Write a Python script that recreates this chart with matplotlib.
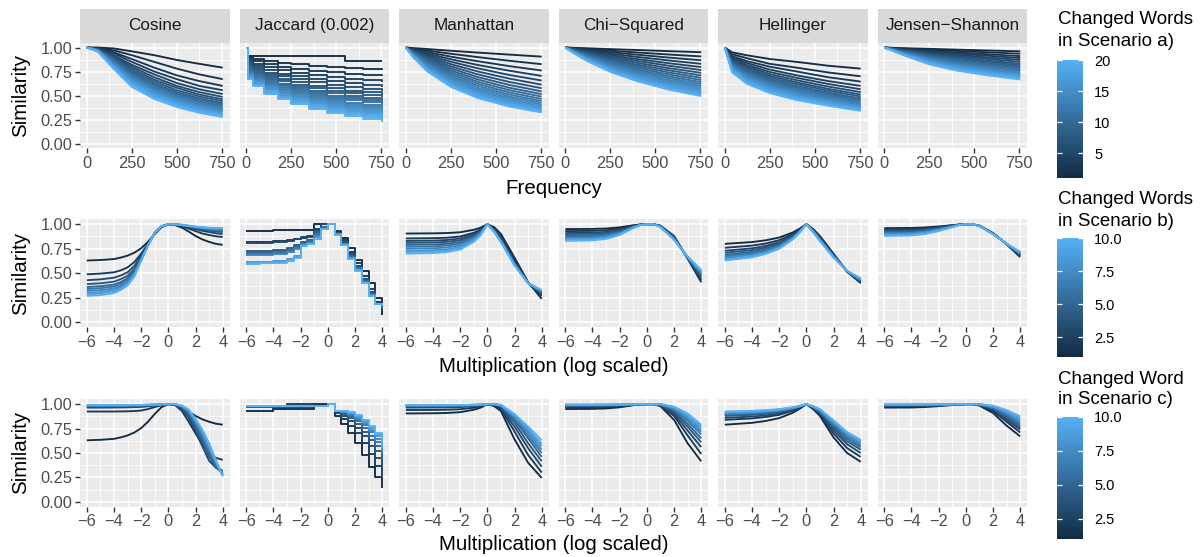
import numpy as np
import matplotlib
matplotlib.use("Agg")
import matplotlib.pyplot as plt
from matplotlib.colors import LinearSegmentedColormap

plt.rcParams['font.family'] = ['Liberation Sans', 'DejaVu Sans']

W, H = 1200, 557

PANELS = ["Cosine", "Jaccard (0.002)", "Manhattan", "Chi\u2212Squared", "Hellinger", "Jensen\u2212Shannon"]

# ---- scenario a): similarity vs frequency, one row per changed-word count (1..20)
FREQ_X = [0, 40, 120, 250, 400, 575, 755]
COS_X = [0, 60, 150, 250, 375, 500, 625, 755]
JAC_X = [0, 10, 40, 100, 175, 250, 350, 450, 550, 650, 755]

A_COSINE = [
    [1, 1.00, 0.99, 0.96, 0.92, 0.87, 0.83, 0.79],
    [1, 0.99, 0.97, 0.92, 0.85, 0.78, 0.72, 0.67],
    [1, 0.99, 0.95, 0.88, 0.79, 0.71, 0.65, 0.60],
    [1, 0.99, 0.94, 0.85, 0.75, 0.67, 0.60, 0.555],
    [1, 0.985, 0.92, 0.82, 0.72, 0.63, 0.565, 0.515],
    [1, 0.985, 0.91, 0.80, 0.69, 0.60, 0.535, 0.485],
    [1, 0.98, 0.90, 0.78, 0.665, 0.58, 0.51, 0.46],
    [1, 0.98, 0.89, 0.76, 0.645, 0.555, 0.49, 0.44],
    [1, 0.98, 0.88, 0.745, 0.625, 0.535, 0.47, 0.42],
    [1, 0.975, 0.87, 0.73, 0.61, 0.52, 0.455, 0.405],
    [1, 0.975, 0.86, 0.715, 0.595, 0.505, 0.44, 0.39],
    [1, 0.975, 0.85, 0.70, 0.58, 0.49, 0.425, 0.375],
    [1, 0.97, 0.84, 0.69, 0.565, 0.475, 0.41, 0.36],
    [1, 0.97, 0.83, 0.675, 0.55, 0.46, 0.40, 0.35],
    [1, 0.97, 0.82, 0.665, 0.54, 0.45, 0.385, 0.335],
    [1, 0.965, 0.81, 0.65, 0.525, 0.435, 0.375, 0.325],
    [1, 0.965, 0.80, 0.635, 0.51, 0.42, 0.36, 0.31],
    [1, 0.965, 0.795, 0.62, 0.495, 0.41, 0.35, 0.30],
    [1, 0.96, 0.785, 0.605, 0.48, 0.395, 0.335, 0.29],
    [1, 0.96, 0.775, 0.59, 0.465, 0.38, 0.32, 0.275],
]

A_JACCARD = [
    [1, .91, .91, .91, .91, .91, .91, .91, .86, .86, .86],
    [1, .90, .88, .86, .84, .825, .81, .80, .79, .78, .77],
    [1, .89, .86, .827, .80, .78, .759, .742, .727, .715, .70],
    [1, .87, .833, .794, .762, .737, .711, .691, .672, .658, .64],
    [1, .85, .808, .764, .728, .699, .671, .647, .626, .611, .59],
    [1, .83, .785, .738, .698, .668, .637, .612, .589, .572, .55],
    [1, .81, .762, .711, .669, .636, .603, .576, .552, .534, .51],
    [1, .80, .749, .694, .65, .614, .579, .55, .525, .506, .48],
    [1, .78, .727, .671, .625, .589, .552, .523, .496, .476, .45],
    [1, .77, .714, .654, .606, .567, .529, .497, .469, .448, .42],
    [1, .75, .694, .634, .586, .547, .509, .477, .449, .428, .40],
    [1, .74, .682, .62, .568, .528, .488, .455, .426, .404, .375],
    [1, .73, .67, .606, .554, .513, .471, .438, .408, .385, .355],
    [1, .72, .658, .593, .539, .497, .454, .42, .389, .366, .335],
    [1, .71, .647, .58, .524, .481, .437, .402, .37, .347, .315],
    [1, .70, .635, .566, .51, .465, .421, .384, .352, .327, .295],
    [1, .69, .624, .555, .497, .452, .407, .37, .337, .313, .28],
    [1, .68, .613, .541, .483, .436, .39, .352, .319, .294, .26],
    [1, .675, .605, .531, .471, .423, .375, .336, .301, .275, .24],
    [1, .67, .60, .52, .46, .41, .36, .32, .285, .255, .22],
]

A_MANHATTAN = [
    [1, .994, .984, .966, .947, .926, .905],
    [1, .989, .968, .935, .900, .862, .826],
    [1, .984, .952, .905, .857, .806, .760],
    [1, .978, .937, .878, .818, .758, .704],
    [1, .973, .923, .852, .783, .714, .656],
    [1, .968, .909, .827, .750, .676, .613],
    [1, .963, .895, .804, .720, .641, .576],
    [1, .957, .882, .782, .692, .610, .543],
    [1, .952, .869, .761, .667, .581, .514],
    [1, .947, .857, .742, .643, .556, .488],
    [1, .942, .845, .723, .621, .532, .464],
    [1, .937, .833, .705, .600, .510, .442],
    [1, .933, .822, .689, .580, .490, .423],
    [1, .928, .810, .672, .562, .472, .405],
    [1, .923, .800, .657, .545, .455, .388],
    [1, .918, .789, .642, .529, .439, .373],
    [1, .914, .779, .628, .514, .424, .359],
    [1, .909, .769, .615, .500, .410, .346],
    [1, .904, .759, .602, .486, .397, .334],
    [1, .900, .750, .590, .473, .385, .323],
]

A_CHISQ = [
    [1, .997, .992, .983, .974, .962, .951],
    [1, .995, .984, .967, .948, .927, .907],
    [1, .992, .976, .951, .925, .895, .867],
    [1, .989, .968, .936, .902, .865, .830],
    [1, .987, .961, .922, .880, .836, .796],
    [1, .984, .953, .907, .860, .810, .765],
    [1, .981, .946, .894, .840, .785, .736],
    [1, .979, .939, .880, .821, .762, .709],
    [1, .976, .932, .867, .803, .740, .684],
    [1, .974, .925, .855, .786, .719, .661],
    [1, .971, .918, .842, .770, .699, .639],
    [1, .968, .911, .831, .754, .681, .619],
    [1, .966, .904, .819, .739, .663, .600],
    [1, .963, .897, .808, .724, .646, .582],
    [1, .961, .891, .797, .710, .630, .565],
    [1, .958, .884, .786, .697, .615, .549],
    [1, .956, .878, .776, .684, .601, .534],
    [1, .953, .872, .766, .671, .587, .520],
    [1, .951, .866, .756, .659, .574, .507],
    [1, .948, .860, .746, .648, .561, .494],
]

A_HELLINGER = [
    [1, .95, .92, .88, .85, .81, .78],
    [1, .93, .89, .83, .79, .74, .70],
    [1, .91, .86, .80, .75, .69, .645],
    [1, .90, .84, .77, .71, .65, .60],
    [1, .885, .82, .745, .684, .62, .565],
    [1, .874, .807, .723, .659, .593, .535],
    [1, .862, .791, .704, .637, .569, .51],
    [1, .853, .777, .687, .619, .55, .49],
    [1, .843, .763, .67, .60, .531, .47],
    [1, .833, .749, .656, .585, .516, .455],
    [1, .824, .737, .642, .57, .50, .44],
    [1, .814, .723, .627, .554, .485, .425],
    [1, .805, .709, .612, .539, .47, .41],
    [1, .797, .698, .60, .527, .459, .40],
    [1, .788, .686, .588, .514, .449, .39],
    [1, .779, .674, .576, .502, .438, .38],
    [1, .77, .662, .563, .49, .426, .37],
    [1, .761, .649, .551, .478, .415, .36],
    [1, .752, .637, .538, .465, .404, .35],
    [1, .743, .624, .525, .452, .393, .34],
]

A_JS = [
    [1, .997, .992, .986, .978, .969, .96],
    [1, .995, .987, .976, .964, .95, .935],
    [1, .994, .982, .966, .949, .93, .91],
    [1, .992, .978, .958, .937, .914, .89],
    [1, .99, .973, .949, .924, .897, .87],
    [1, .989, .968, .94, .911, .881, .85],
    [1, .987, .963, .93, .897, .864, .83],
    [1, .986, .959, .922, .887, .851, .815],
    [1, .984, .955, .914, .876, .838, .80],
    [1, .983, .951, .906, .864, .824, .785],
    [1, .981, .947, .897, .853, .811, .77],
    [1, .98, .942, .888, .841, .797, .755],
    [1, .978, .937, .879, .829, .783, .74],
    [1, .977, .934, .872, .82, .774, .73],
    [1, .976, .93, .865, .811, .764, .72],
    [1, .975, .927, .858, .802, .754, .71],
    [1, .974, .923, .85, .792, .744, .70],
    [1, .973, .919, .843, .782, .733, .69],
    [1, .972, .915, .835, .772, .723, .68],
    [1, .97, .91, .825, .76, .71, .667],
]

# ---- scenarios b) and c): one row per x value, one column per changed-word count (1..10)
MULT_X = [-6, -4, -3, -2, -1, -0.5, 0, 0.5, 1, 2, 3, 4]
COSM_X = [-6, -5, -4, -3.5, -3, -2.5, -2, -1.5, -1, -0.5, 0, 0.5, 1, 1.5, 2, 2.5, 3, 3.5, 4]
JACM_X = [-6, -5, -4, -3, -2.5, -2, -1.5, -1, -0.5, 0, 0.5, 1, 1.5, 2, 2.5, 3, 3.5, 4]

B_COSINE = [
    [.63, .49, .43, .39, .36, .34, .32, .30, .285, .27],
    [.635, .497, .438, .398, .368, .348, .328, .308, .293, .278],
    [.645, .51, .455, .415, .385, .365, .345, .327, .312, .298],
    [.66, .53, .478, .44, .41, .392, .373, .357, .343, .33],
    [.68, .56, .51, .475, .45, .432, .415, .40, .388, .376],
    [.71, .615, .575, .545, .525, .51, .497, .485, .476, .467],
    [.755, .70, .68, .665, .655, .648, .64, .635, .63, .625],
    [.82, .80, .795, .79, .79, .787, .785, .783, .782, .78],
    [.90, .905, .91, .91, .912, .913, .914, .915, .915, .916],
    [.97, .975, .977, .978, .979, .98, .98, .981, .981, .982],
    [1, 1, 1, 1, 1, 1, 1, 1, 1, 1],
    [.99, .995, .997, .998, .998, .998, .999, .999, .999, .999],
    [.965, .98, .985, .99, .99, .99, .99, .99, .995, .995],
    [.925, .955, .968, .975, .978, .98, .982, .983, .984, .985],
    [.88, .93, .95, .96, .965, .97, .97, .975, .975, .975],
    [.845, .905, .932, .945, .953, .958, .962, .966, .967, .969],
    [.82, .89, .92, .935, .945, .95, .955, .96, .96, .965],
    [.80, .877, .908, .926, .936, .944, .949, .954, .957, .962],
    [.79, .87, .90, .92, .93, .94, .945, .95, .955, .96],
]

B_JACCARD = [
    [.93, .82, .81, .73, .71, .70, .69, .62, .61, .59],
    [.93, .82, .81, .73, .71, .70, .69, .62, .61, .60],
    [.945, .83, .82, .74, .72, .71, .70, .63, .62, .61],
    [.945, .84, .83, .76, .74, .73, .72, .65, .64, .63],
    [.945, .85, .85, .79, .77, .76, .75, .68, .67, .66],
    [.945, .87, .86, .82, .80, .80, .79, .79, .78, .78],
    [.945, .88, .87, .84, .83, .82, .81, .80, .80, .80],
    [1.0, .95, .94, .92, .90, .89, .88, .86, .85, .85],
    [1.0, 1.0, 1.0, .97, .96, .96, .95, .95, .95, .95],
    [1, 1, 1, 1, 1, 1, 1, 1, 1, 1],
    [.93, .92, .91, .91, .90, .90, .90, .90, .89, .89],
    [.86, .84, .82, .81, .80, .80, .80, .79, .79, .79],
    [.76, .72, .70, .68, .67, .67, .66, .66, .65, .65],
    [.64, .60, .57, .56, .55, .54, .54, .53, .53, .52],
    [.52, .47, .44, .43, .42, .41, .41, .40, .40, .40],
    [.40, .34, .31, .30, .29, .28, .28, .27, .27, .27],
    [.25, .21, .20, .19, .19, .19, .19, .19, .19, .19],
    [.08, .10, .12, .14, .15, .16, .17, .17, .18, .18],
]

B_MANHATTAN = [
    [.905, .855, .83, .81, .79, .77, .75, .73, .715, .70],
    [.907, .858, .833, .814, .794, .775, .755, .735, .721, .706],
    [.91, .862, .839, .82, .80, .782, .763, .744, .729, .715],
    [.918, .875, .854, .837, .819, .802, .785, .768, .755, .742],
    [.943, .913, .898, .886, .874, .862, .85, .838, .829, .82],
    [.964, .945, .935, .928, .92, .913, .905, .897, .892, .886],
    [1, 1, 1, 1, 1, 1, 1, 1, 1, 1],
    [.97, .955, .945, .94, .935, .93, .93, .925, .925, .92],
    [.90, .87, .855, .845, .84, .835, .83, .825, .82, .82],
    [.66, .63, .615, .605, .60, .595, .59, .585, .58, .58],
    [.41, .405, .40, .40, .40, .40, .40, .40, .40, .40],
    [.24, .27, .285, .295, .305, .31, .315, .32, .325, .33],
]

B_CHISQ = [
    [.95, .93, .91, .90, .885, .87, .86, .85, .84, .83],
    [.952, .932, .913, .903, .888, .874, .864, .855, .845, .835],
    [.956, .938, .921, .912, .899, .886, .877, .868, .859, .85],
    [.968, .955, .942, .935, .925, .916, .909, .903, .896, .89],
    [.989, .984, .979, .977, .974, .97, .968, .966, .963, .961],
    [.997, .996, .995, .994, .993, .992, .992, .991, .99, .99],
    [1, 1, 1, 1, 1, 1, 1, 1, 1, 1],
    [1, 1, 1, 1, 1, 1, 1, 1, 1, .998],
    [.985, .983, .981, .979, .978, .976, .975, .973, .972, .97],
    [.88, .875, .87, .865, .86, .855, .85, .847, .843, .84],
    [.65, .652, .655, .657, .66, .662, .665, .667, .668, .67],
    [.41, .43, .45, .47, .48, .495, .505, .515, .525, .535],
]

B_HELLINGER = [
    [.80, .76, .73, .71, .69, .675, .66, .65, .64, .63],
    [.818, .782, .754, .736, .718, .704, .691, .682, .672, .663],
    [.836, .803, .779, .762, .746, .734, .721, .713, .705, .697],
    [.864, .837, .816, .803, .789, .779, .769, .762, .755, .748],
    [.916, .899, .887, .878, .87, .864, .857, .853, .849, .845],
    [.954, .945, .938, .933, .929, .925, .922, .92, .917, .915],
    [1, 1, 1, 1, 1, 1, 1, 1, 1, 1],
    [.95, .945, .94, .935, .93, .93, .925, .925, .92, .92],
    [.88, .87, .86, .855, .85, .845, .84, .835, .83, .83],
    [.70, .695, .69, .685, .68, .675, .67, .665, .665, .66],
    [.515, .517, .518, .52, .52, .52, .522, .523, .524, .525],
    [.40, .41, .415, .42, .425, .43, .435, .44, .445, .45],
]

B_JS = [
    [.96, .95, .94, .93, .92, .91, .905, .895, .89, .88],
    [.962, .952, .942, .933, .923, .914, .909, .899, .894, .885],
    [.967, .959, .95, .942, .934, .925, .921, .913, .909, .90],
    [.977, .971, .965, .959, .954, .948, .945, .939, .936, .93],
    [.99, .988, .985, .983, .98, .978, .976, .974, .973, .97],
    [.997, .996, .995, .994, .994, .993, .992, .992, .991, .99],
    [1, 1, 1, 1, 1, 1, 1, 1, 1, 1],
    [.998, .999, .999, .999, .999, 1, 1, 1, 1, 1],
    [.985, .984, .984, .983, .983, .982, .982, .981, .981, .98],
    [.91, .908, .906, .905, .903, .902, .90, .90, .90, .90],
    [.795, .797, .80, .80, .80, .80, .80, .80, .80, .80],
    [.665, .675, .685, .69, .695, .70, .705, .71, .715, .72],
]

C_COSINE = [
    [.63, .925, .965, .975, .98, .985, .985, .99, .99, .99],
    [.635, .925, .965, .975, .98, .985, .985, .99, .99, .99],
    [.645, .925, .966, .976, .98, .985, .986, .99, .99, .99],
    [.66, .926, .967, .976, .981, .985, .986, .99, .99, .99],
    [.68, .927, .968, .977, .981, .986, .987, .99, .99, .99],
    [.71, .93, .97, .978, .982, .987, .988, .991, .991, .991],
    [.755, .935, .972, .98, .984, .988, .989, .992, .992, .992],
    [.82, .95, .978, .985, .988, .991, .992, .994, .994, .994],
    [.90, .97, .985, .99, .992, .994, .995, .996, .996, .996],
    [.97, .99, .995, .997, .998, .998, .998, .999, .999, .999],
    [1, 1, 1, 1, 1, 1, 1, 1, 1, 1],
    [.99, .99, .995, 1, 1, 1, 1, 1, 1, 1],
    [.965, .93, .95, .96, .97, .975, .98, .98, .985, .985],
    [.925, .82, .86, .88, .90, .915, .93, .935, .94, .945],
    [.88, .70, .72, .76, .78, .80, .82, .83, .84, .85],
    [.845, .59, .57, .61, .64, .67, .69, .71, .725, .74],
    [.82, .50, .42, .46, .49, .52, .54, .56, .58, .60],
    [.80, .45, .35, .35, .36, .38, .40, .41, .42, .43],
    [.79, .43, .32, .30, .29, .28, .28, .27, .27, .26],
]

C_JACCARD = [
    [.935, .935, .975, .975, .975, .98, .98, .98, .98, .98],
    [.935, .935, .975, .975, .975, .98, .98, .98, .98, .98],
    [.95, .95, .975, .975, .98, .98, .98, .98, .98, .98],
    [.95, 1.0, .975, .98, .98, .98, .98, .98, .98, .98],
    [.95, 1.0, .975, .98, .98, .98, .98, .98, .98, .98],
    [.95, 1.0, .975, .98, .98, .98, .98, .98, .98, .98],
    [.95, 1.0, .975, .98, .98, .98, .98, .98, .98, .98],
    [1.0, 1.0, .98, .98, .98, .98, .98, .98, .98, .98],
    [1.0, 1.0, .98, .98, .98, .98, .98, .98, .98, .98],
    [1, 1, 1, 1, 1, 1, 1, 1, 1, 1],
    [.88, .91, .92, .93, .93, .93, .93, .93, .93, .93],
    [.80, .85, .88, .90, .91, .92, .92, .93, .93, .93],
    [.70, .78, .83, .86, .88, .89, .90, .91, .91, .92],
    [.60, .70, .76, .80, .83, .85, .86, .87, .88, .89],
    [.48, .60, .67, .72, .76, .79, .81, .82, .83, .84],
    [.36, .49, .57, .63, .67, .71, .73, .75, .77, .78],
    [.25, .37, .45, .52, .57, .61, .64, .67, .69, .70],
    [.14, .26, .33, .39, .44, .48, .51, .535, .555, .57],
]

C_MANHATTAN = [
    [.905, .94, .965, .975, .98, .985, .985, .99, .99, .99],
    [.907, .941, .966, .976, .98, .985, .985, .99, .99, .99],
    [.91, .943, .967, .976, .981, .986, .986, .99, .99, .99],
    [.918, .948, .97, .979, .983, .987, .987, .991, .991, .991],
    [.943, .964, .979, .985, .988, .991, .991, .994, .994, .994],
    [.964, .977, .987, .99, .992, .994, .994, .996, .996, .996],
    [1, 1, 1, 1, 1, 1, 1, 1, 1, 1],
    [.98, .99, .995, .997, .998, 1, 1, 1, 1, 1],
    [.93, .95, .965, .975, .98, .985, .99, .99, .99, .995],
    [.64, .72, .77, .81, .84, .86, .87, .88, .89, .90],
    [.40, .48, .55, .60, .65, .68, .71, .73, .75, .77],
    [.245, .30, .36, .415, .46, .50, .535, .57, .595, .63],
]

C_CHISQ = [
    [.95, .965, .975, .98, .985, .99, .99, .995, .995, .995],
    [.952, .966, .976, .981, .985, .99, .99, .995, .995, .995],
    [.956, .969, .978, .982, .987, .991, .991, .996, .996, .996],
    [.968, .977, .984, .987, .99, .994, .994, .997, .997, .997],
    [.989, .992, .994, .995, .997, .998, .998, .999, .999, .999],
    [.997, .998, .999, .999, 1, 1, 1, 1, 1, 1],
    [1, 1, 1, 1, 1, 1, 1, 1, 1, 1],
    [1, 1, 1, 1, 1, 1, 1, 1, 1, 1],
    [.98, .985, .99, .99, .995, .995, 1, 1, 1, 1],
    [.84, .88, .90, .92, .935, .945, .955, .96, .97, .975],
    [.60, .68, .73, .77, .80, .83, .85, .87, .89, .905],
    [.415, .49, .56, .61, .65, .69, .72, .745, .77, .79],
]

C_HELLINGER = [
    [.79, .84, .86, .88, .89, .90, .905, .91, .92, .925],
    [.809, .854, .873, .891, .90, .909, .914, .918, .927, .932],
    [.828, .869, .885, .902, .91, .918, .922, .926, .934, .939],
    [.857, .891, .905, .918, .925, .932, .935, .939, .946, .949],
    [.912, .933, .941, .95, .954, .958, .96, .962, .966, .969],
    [.952, .963, .968, .972, .975, .977, .978, .979, .982, .983],
    [1, 1, 1, 1, 1, 1, 1, 1, 1, 1],
    [.95, .955, .96, .965, .97, .97, .975, .975, .98, .98],
    [.88, .895, .905, .915, .925, .93, .935, .94, .945, .95],
    [.66, .70, .73, .755, .775, .79, .805, .815, .825, .835],
    [.50, .55, .59, .62, .645, .665, .68, .695, .705, .715],
    [.41, .46, .50, .535, .56, .58, .60, .615, .625, .635],
]

C_JS = [
    [.965, .975, .98, .985, .99, .99, .993, .995, .997, .998],
    [.966, .976, .981, .986, .99, .99, .993, .995, .997, .998],
    [.971, .979, .983, .988, .992, .992, .994, .996, .998, .998],
    [.98, .986, .988, .991, .994, .994, .996, .997, .998, .999],
    [.991, .994, .995, .996, .998, .998, .998, .999, .999, 1],
    [.997, .998, .998, .999, .999, .999, 1, 1, 1, 1],
    [1, 1, 1, 1, 1, 1, 1, 1, 1, 1],
    [1, 1, 1, 1, 1, 1, 1, 1, 1, 1],
    [.985, .99, .99, .995, .995, .997, .998, .999, 1, 1],
    [.91, .93, .945, .955, .96, .965, .97, .975, .98, .985],
    [.78, .82, .84, .86, .88, .895, .905, .915, .93, .94],
    [.67, .71, .74, .76, .78, .80, .82, .84, .86, .875],
]

LEGEND_TITLES = [("Changed Words", "in Scenario a)"),
                 ("Changed Words", "in Scenario b)"),
                 ("Changed Word", "in Scenario c)")]
LEGEND_TICKS = [[5, 10, 15, 20], [2.5, 5.0, 7.5, 10.0], [2.5, 5.0, 7.5, 10.0]]
LEGEND_LABELS = [["5", "10", "15", "20"], ["2.5", "5.0", "7.5", "10.0"], ["2.5", "5.0", "7.5", "10.0"]]

# ---- layout (pixels)
COL_LEFT = [80, 239.5, 399, 558.5, 718, 877.5]
PANEL_W = 149.5
ROW_TOP = [42.7, 219.3, 399.3]
ROW_H = [105.6, 108, 107.4]
CBAR = [(60, 178), (238, 357), (417, 539)]

cmap = LinearSegmentedColormap.from_list("gg", ["#132B43", "#56B1F7"])
fig = plt.figure(figsize=(W / 100, H / 100), dpi=100)


def px_axes(left, top, w, h):
    return fig.add_axes([left / W, 1 - (top + h) / H, w / W, h / H])


def style(ax, xlim, xticks, xminor, show_y):
    ax.set_facecolor("#EBEBEB")
    for s in ax.spines.values():
        s.set_visible(False)
    ax.set_xlim(*xlim)
    ax.set_ylim(-0.05, 1.05)
    ax.set_xticks(xticks)
    ax.set_xticks(xminor, minor=True)
    ax.set_yticks([0, 0.25, 0.5, 0.75, 1.0])
    ax.set_yticks([0.125, 0.375, 0.625, 0.875], minor=True)
    ax.grid(which="major", color="white", lw=1.1)
    ax.grid(which="minor", color="white", lw=0.55)
    ax.set_axisbelow(True)
    ax.tick_params(which="major", direction="out", length=3.5, width=1.0, color="#333333",
                   labelcolor="#4D4D4D", labelsize=11.8, pad=2)
    ax.tick_params(which="minor", length=0)
    if show_y:
        ax.set_yticklabels(["0.00", "0.25", "0.50", "0.75", "1.00"])
    else:
        ax.tick_params(axis="y", which="both", length=0, labelleft=False)


def draw(ax, x, lines, steps=False):
    lines = np.asarray(lines)
    n = len(lines)
    for k, y in enumerate(lines):
        kw = dict(drawstyle="steps-post") if steps else {}
        ax.plot(x, y, color=cmap(k / (n - 1)), lw=1.35, solid_capstyle="butt",
                solid_joinstyle="round", **kw)


row_a = [(COS_X, A_COSINE, False), (JAC_X, A_JACCARD, True), (FREQ_X, A_MANHATTAN, False),
         (FREQ_X, A_CHISQ, False), (FREQ_X, A_HELLINGER, False), (FREQ_X, A_JS, False)]
row_b = [(COSM_X, np.array(B_COSINE).T, False), (JACM_X, np.array(B_JACCARD).T, True),
         (MULT_X, np.array(B_MANHATTAN).T, False), (MULT_X, np.array(B_CHISQ).T, False),
         (MULT_X, np.array(B_HELLINGER).T, False), (MULT_X, np.array(B_JS).T, False)]
row_c = [(COSM_X, np.array(C_COSINE).T, False), (JACM_X, np.array(C_JACCARD).T, True),
         (MULT_X, np.array(C_MANHATTAN).T, False), (MULT_X, np.array(C_CHISQ).T, False),
         (MULT_X, np.array(C_HELLINGER).T, False), (MULT_X, np.array(C_JS).T, False)]

for r, row in enumerate([row_a, row_b, row_c]):
    for c, (x, lines, steps) in enumerate(row):
        ax = px_axes(COL_LEFT[c], ROW_TOP[r], PANEL_W, ROW_H[r])
        if r == 0:
            style(ax, (-37.75, 792.75), [0, 250, 500, 750], [125, 375, 625], c == 0)
        else:
            style(ax, (-6.5, 4.5), [-6, -4, -2, 0, 2, 4], [-5, -3, -1, 1, 3], c == 0)
        draw(ax, x, lines, steps)
        if r == 0:
            sax = px_axes(COL_LEFT[c], 9, PANEL_W, 33.7)
            sax.set_facecolor("#D9D9D9")
            sax.set_xticks([])
            sax.set_yticks([])
            for s in sax.spines.values():
                s.set_visible(False)
            sax.text(0.5, 0.5, PANELS[c], ha="center", va="center", fontsize=12.3,
                     color="#1A1A1A", transform=sax.transAxes)

    mid = ROW_TOP[r] + ROW_H[r] / 2
    fig.text(21 / W, 1 - mid / H, "Similarity", rotation=90, ha="center", va="center", fontsize=14.8)

fig.text(553.5 / W, 1 - 188 / H, "Frequency", ha="center", va="center", fontsize=14.8)
fig.text(553.5 / W, 1 - 367 / H, "Multiplication (log scaled)", ha="center", va="center", fontsize=14.8)
fig.text(553.5 / W, 1 - 545 / H, "Multiplication (log scaled)", ha="center", va="center", fontsize=14.8)

# colour bar legends
title_y = [(20, 42), (200, 221), (379, 400)]
vmax = [20, 10, 10]
for i in range(3):
    top, bot = CBAR[i]
    cax = px_axes(1057, top, 26, bot - top)
    grad = np.linspace(1, vmax[i], 256).reshape(-1, 1)
    cax.imshow(grad, aspect="auto", cmap=cmap, origin="lower", extent=[0, 1, 1, vmax[i]])
    cax.set_xlim(0, 1)
    cax.set_ylim(1, vmax[i])
    for s in cax.spines.values():
        s.set_visible(False)
    cax.set_xticks([])
    cax.set_yticks(LEGEND_TICKS[i])
    cax.set_yticklabels(LEGEND_LABELS[i])
    cax.yaxis.tick_right()
    cax.tick_params(axis="y", length=0, labelsize=10.5, labelcolor="black", pad=8)
    cax.hlines(LEGEND_TICKS[i], 0, 0.2, color="white", lw=0.9)
    cax.hlines(LEGEND_TICKS[i], 0.8, 1, color="white", lw=0.9)
    fig.text(1058 / W, 1 - title_y[i][0] / H, LEGEND_TITLES[i][0], ha="left", va="center", fontsize=13.5)
    fig.text(1058 / W, 1 - title_y[i][1] / H, LEGEND_TITLES[i][1], ha="left", va="center", fontsize=13.5)

fig.savefig("out.png", dpi=100)
